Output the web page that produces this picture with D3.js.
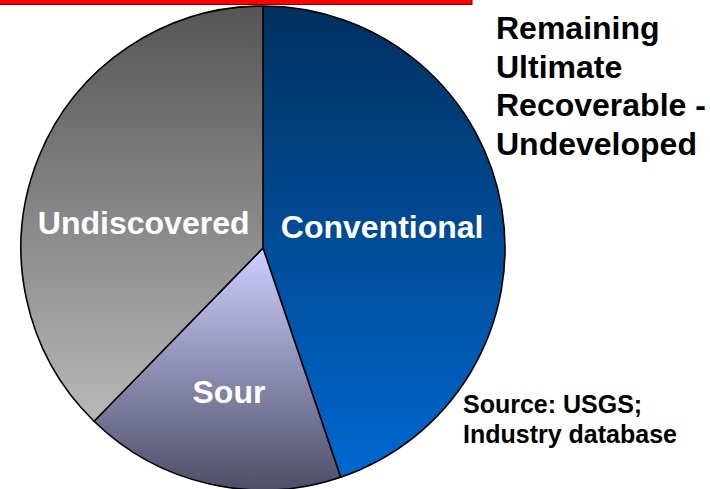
<!DOCTYPE html>
<html>
<head>
<meta charset="utf-8">
<script src="https://cdn.jsdelivr.net/npm/d3@7/dist/d3.min.js"></script>
<style>
  html, body { margin: 0; padding: 0; background: #ffffff; }
  svg { display: block; }
  text { font-family: "Liberation Sans", Arial, sans-serif; font-weight: bold; }
</style>
</head>
<body>
<svg id="chart" width="710" height="489"></svg>
<script>
// Remaining ultimate recoverable resources, share by category (%)
const categories = ["Conventional", "Sour", "Undiscovered"];
const shares = [44.8, 17.5, 37.7];
const titleLines = ["Remaining", "Ultimate", "Recoverable -", "Undeveloped"];
const sourceLines = ["Source: USGS;", "Industry database"];

// vertical gradient stops per slice: [top, bottom]
const sliceGradients = [
  ["#00305f", "#0068d0"],
  ["#cfcfff", "#4e4e68"],
  ["#555555", "#b8b8b8"]
];

const W = 710, H = 489;
const cx = 263, cy = 248, R = 242;

const svg = d3.select("#chart");
const defs = svg.append("defs");

// red rule across the top
svg.append("rect")
  .attr("x", -1).attr("y", -1)
  .attr("width", 473).attr("height", 5.5)
  .attr("fill", "#ff0000")
  .attr("stroke", "#8a0000").attr("stroke-width", 1);

const pie = d3.pie().sort(null).value(d => d);
const arcs = pie(shares);
const arc = d3.arc().innerRadius(0).outerRadius(R);

// each slice's gradient spans its own bounding box
arcs.forEach((a, i) => {
  const g = defs.append("linearGradient")
    .attr("id", "grad" + i)
    .attr("x1", 0).attr("y1", 0).attr("x2", 0).attr("y2", 1);
  g.append("stop").attr("offset", "0%").attr("stop-color", sliceGradients[i][0]);
  g.append("stop").attr("offset", "100%").attr("stop-color", sliceGradients[i][1]);
});

const chart = svg.append("g").attr("transform", `translate(${cx},${cy})`);

chart.selectAll("path.slice")
  .data(arcs)
  .join("path")
  .attr("class", "slice")
  .attr("d", arc)
  .attr("fill", (d, i) => `url(#grad${i})`)
  .attr("stroke", "#000000")
  .attr("stroke-width", 1.6)
  .attr("stroke-linejoin", "round");

// label placement: polar angle (deg, clockwise from top) and distance from centre
const labelPolar = [
  { angle: 80, dist: 121 },
  { angle: 193.3, dist: 148 },
  { angle: 282, dist: 122 }
];

chart.selectAll("text.label")
  .data(arcs)
  .join("text")
  .attr("class", "label")
  .attr("x", (d, i) => labelPolar[i].dist * Math.sin(labelPolar[i].angle * Math.PI / 180))
  .attr("y", (d, i) => -labelPolar[i].dist * Math.cos(labelPolar[i].angle * Math.PI / 180))
  .attr("text-anchor", "middle")
  .attr("dominant-baseline", "central")
  .attr("fill", "#ffffff")
  .attr("font-size", 32)
  .text((d, i) => categories[i]);

// title block
const title = svg.append("text")
  .attr("x", 496).attr("y", 39)
  .attr("font-size", 32)
  .attr("fill", "#000000");
title.selectAll("tspan")
  .data(titleLines)
  .join("tspan")
  .attr("x", 496)
  .attr("dy", (d, i) => i === 0 ? 0 : 38.7)
  .text(d => d);

// source note
const src = svg.append("text")
  .attr("x", 463).attr("y", 413)
  .attr("font-size", 25)
  .attr("fill", "#000000");
src.selectAll("tspan")
  .data(sourceLines)
  .join("tspan")
  .attr("x", 463)
  .attr("dy", (d, i) => i === 0 ? 0 : 29.5)
  .text(d => d);
</script>
</body>
</html>
